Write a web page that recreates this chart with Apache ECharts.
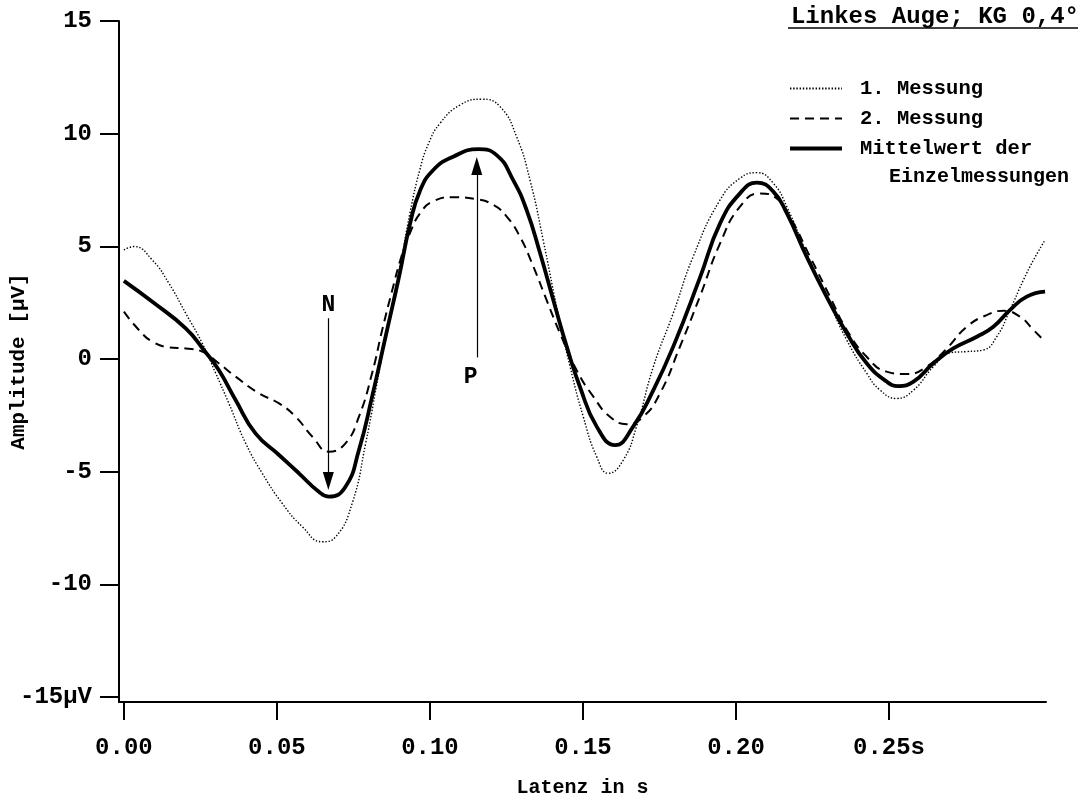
<!DOCTYPE html>
<html>
<head>
<meta charset="utf-8">
<script src="https://cdn.jsdelivr.net/npm/echarts@6/dist/echarts.min.js"></script>
<style>html,body{margin:0;padding:0;background:#fff}#c{width:1082px;height:800px}</style>
</head>
<body>
<div id="c"></div>
<script>
// ---- data (latency in s, amplitude in µV) ----
const t1 = [0, 0.0033, 0.0093, 0.0147, 0.0202, 0.0256, 0.030, 0.0343, 0.0398, 0.0452, 0.0517, 0.0583, 0.0648, 0.0692, 0.0746, 0.079, 0.0833, 0.0866, 0.0905, 0.0935, 0.0967, 0.0995, 0.1033, 0.1098, 0.1169, 0.1229, 0.1283, 0.1327, 0.137, 0.1414, 0.1458, 0.1501, 0.1545, 0.1583, 0.1632, 0.1675, 0.173, 0.1795, 0.186, 0.1948, 0.2013, 0.2068, 0.2122, 0.2166, 0.2231, 0.2296, 0.2362, 0.2427, 0.2471, 0.2525, 0.258, 0.2645, 0.2699, 0.2754, 0.2808, 0.2852, 0.2895, 0.2939, 0.2972, 0.301];
const v1 = [4.84, 4.99, 4.39, 3.36, 2.03, 0.70, -0.63, -1.97, -3.74, -5.07, -6.40, -7.44, -8.11, -7.89, -6.40, -3.74, -0.63, 1.73, 4.3, 6.5, 8.4, 9.55, 10.46, 11.27, 11.53, 11.20, 9.87, 7.94, 5.28, 2.32, -0.34, -2.56, -4.34, -5.07, -4.48, -3.00, -0.34, 2.03, 4.54, 7.06, 8.02, 8.27, 7.80, 6.76, 4.69, 2.77, 0.84, -0.63, -1.38, -1.75, -1.38, -0.34, 0.28, 0.33, 0.40, 0.99, 2.17, 3.50, 4.39, 5.28];

const t2 = [0, 0.0049, 0.0093, 0.0147, 0.0202, 0.0256, 0.031, 0.0365, 0.0441, 0.0507, 0.0561, 0.0616, 0.067, 0.0724, 0.0768, 0.0811, 0.0844, 0.0877, 0.0908, 0.0935, 0.0967, 0.1011, 0.1076, 0.1153, 0.1207, 0.1251, 0.1294, 0.1338, 0.1381, 0.1425, 0.1479, 0.1534, 0.1588, 0.1643, 0.1697, 0.1752, 0.1817, 0.1882, 0.1948, 0.2013, 0.2078, 0.2133, 0.2176, 0.2242, 0.2307, 0.2362, 0.2427, 0.2492, 0.2558, 0.2623, 0.2689, 0.2754, 0.2819, 0.2874, 0.2928, 0.2972, 0.301];
const v2 = [2.10, 1.29, 0.77, 0.52, 0.47, 0.33, -0.19, -0.78, -1.52, -1.97, -2.56, -3.45, -4.11, -3.74, -2.56, -0.63, 1.29, 3.06, 4.6, 5.6, 6.45, 7.0, 7.18, 7.09, 6.84, 6.32, 5.43, 4.10, 2.62, 1.14, -0.49, -1.67, -2.56, -2.89, -2.56, -1.52, 0.55, 2.77, 5.13, 6.76, 7.35, 7.13, 6.32, 4.54, 2.77, 1.29, 0.10, -0.56, -0.67, -0.34, 0.47, 1.43, 1.95, 2.14, 1.88, 1.29, 0.77];

const tm = [0, 0.0093, 0.0202, 0.0261, 0.031, 0.0365, 0.043, 0.0507, 0.0572, 0.0637, 0.067, 0.0724, 0.0768, 0.0811, 0.0855, 0.0899, 0.0935, 0.0967, 0.1011, 0.1076, 0.1158, 0.1218, 0.1272, 0.1316, 0.136, 0.1403, 0.1447, 0.149, 0.1545, 0.1605, 0.1664, 0.173, 0.1795, 0.1882, 0.1948, 0.2013, 0.2068, 0.2122, 0.2166, 0.2231, 0.2296, 0.2362, 0.2427, 0.2492, 0.253, 0.258, 0.2645, 0.271, 0.2787, 0.2841, 0.2895, 0.295, 0.301];
const vm = [3.47, 2.54, 1.36, 0.40, -0.49, -1.82, -3.30, -4.26, -5.07, -5.89, -6.11, -5.67, -4.04, -1.67, 0.99, 3.65, 6.0, 7.45, 8.39, 8.98, 9.31, 9.05, 7.94, 6.61, 4.69, 2.62, 0.55, -1.23, -3.00, -3.82, -3.00, -1.38, 0.55, 3.6, 6.02, 7.35, 7.83, 7.43, 6.47, 4.54, 2.77, 1.14, -0.19, -1.00, -1.20, -1.00, -0.19, 0.47, 0.99, 1.43, 2.17, 2.77, 2.99];

const seriesNames = ['1. Messung', '2. Messung', 'Mittelwert der'];
const legendSecondLine = 'Einzelmessungen';
const xTicks = [0, 0.05, 0.10, 0.15, 0.20, 0.25];
const yTicks = [-15, -10, -5, 0, 5, 10, 15];
// annotation arrows: [t, start amplitude, end amplitude]
const arrowN = [0.0668, 1.81, -5.41];
const arrowP = [0.1153, 0.07, 8.57];
// annotation labels: [name, t, amplitude]
const labelN = ['N', 0.0668, 2.40];
const labelP = ['P', 0.1133, -0.79];

const FONT = "'Liberation Mono', 'Courier New', monospace";
const zip = (t, v) => t.map((x, i) => [x, v[i]]);

const chart = echarts.init(document.getElementById('c'), null, {renderer: 'canvas'});
chart.setOption({
  animation: false,
  backgroundColor: '#fff',
  title: {
    text: 'Linkes Auge; KG 0,4°',
    right: 3, top: 5, padding: 0,
    textStyle: {fontFamily: FONT, fontSize: 24, fontWeight: 'bold', color: '#000'}
  },
  legend: {
    orient: 'vertical',
    left: 788, top: 78, padding: 0,
    itemWidth: 52, itemHeight: 20, itemGap: 9,
    data: [
      {name: seriesNames[0]},
      {name: seriesNames[1]},
      {name: seriesNames[2], lineStyle: {width: 4}}
    ],
    itemStyle: {opacity: 0},
    textStyle: {fontFamily: FONT, fontSize: 20.5, fontWeight: 'bold', color: '#000', lineHeight: 20, padding: [0, 0, 0, 13]},
    selectedMode: false
  },
  graphic: [
    {type: 'line', shape: {x1: 788, y1: 28, x2: 1078, y2: 28}, style: {stroke: '#000', lineWidth: 1.5}},
    {type: 'text', left: 889, top: 167, style: {text: legendSecondLine, font: 'bold 20px ' + FONT, fill: '#000'}}
  ],
  grid: {left: 119, right: 36, top: 21, bottom: 98, containLabel: false, outerBoundsMode: 'none'},
  xAxis: {
    type: 'value', min: -0.0016, max: 0.3013,
    name: 'Latenz in s', nameLocation: 'middle', nameGap: 76, nameMoveOverlap: false,
    nameTextStyle: {fontFamily: FONT, fontSize: 20, fontWeight: 'bold', color: '#000'},
    axisLine: {show: true, onZero: false, lineStyle: {color: '#000', width: 2}},
    axisTick: {show: true, length: 18, lineStyle: {color: '#000', width: 2}, customValues: xTicks},
    axisLabel: {customValues: xTicks, margin: 34, fontFamily: FONT, fontSize: 24, fontWeight: 'bold', color: '#000',
      formatter: v => (Math.abs(v - 0.25) < 1e-9 ? '0.25s' : v.toFixed(2))},
    splitLine: {show: false}
  },
  yAxis: {
    type: 'value', min: -15.22, max: 15,
    name: 'Amplitude [µV]', nameLocation: 'middle', nameGap: 90, nameMoveOverlap: false,
    nameTextStyle: {fontFamily: FONT, fontSize: 21, fontWeight: 'bold', color: '#000'},
    axisLine: {show: true, onZero: false, lineStyle: {color: '#000', width: 2}},
    axisTick: {show: true, length: 19, lineStyle: {color: '#000', width: 2}, customValues: yTicks},
    axisLabel: {customValues: yTicks, margin: 27, fontFamily: FONT, fontSize: 24, fontWeight: 'bold', color: '#000',
      formatter: v => (v === -15 ? '-15µV' : String(v))},
    splitLine: {show: false}
  },
  series: [
    {
      name: seriesNames[0], type: 'line', data: zip(t1, v1), smooth: 0.5, symbol: 'none',
      lineStyle: {color: '#000', width: 1.4, type: [1.4, 1.8]}, itemStyle: {color: '#000'}, z: 2
    },
    {
      name: seriesNames[1], type: 'line', data: zip(t2, v2), smooth: 0.5, symbol: 'none',
      lineStyle: {color: '#000', width: 2, type: [9, 6]}, itemStyle: {color: '#000'}, z: 3
    },
    {
      name: seriesNames[2], type: 'line', data: zip(tm, vm), smooth: 0.5, symbol: 'none',
      lineStyle: {color: '#000', width: 3.8, type: 'solid'}, itemStyle: {color: '#000'}, z: 4,
      markLine: {
        silent: true, animation: false,
        lineStyle: {color: '#000', width: 1.2, type: 'solid'},
        label: {show: false},
        data: [
          [{coord: [arrowN[0], arrowN[1]], symbol: 'none'}, {coord: [arrowN[0], arrowN[2]], symbol: 'triangle', symbolSize: [11, 18]}],
          [{coord: [arrowP[0], arrowP[1]], symbol: 'none'}, {coord: [arrowP[0], arrowP[2]], symbol: 'triangle', symbolSize: [11, 18]}]
        ]
      },
      markPoint: {
        silent: true, animation: false,
        symbol: 'circle', symbolSize: 1,
        itemStyle: {color: 'rgba(0,0,0,0)'},
        label: {show: true, position: 'inside', formatter: '{b}', fontFamily: FONT, fontSize: 23, fontWeight: 'bold', color: '#000'},
        data: [
          {name: labelN[0], coord: [labelN[1], labelN[2]]},
          {name: labelP[0], coord: [labelP[1], labelP[2]]}
        ]
      }
    }
  ]
});
</script>
</body>
</html>
